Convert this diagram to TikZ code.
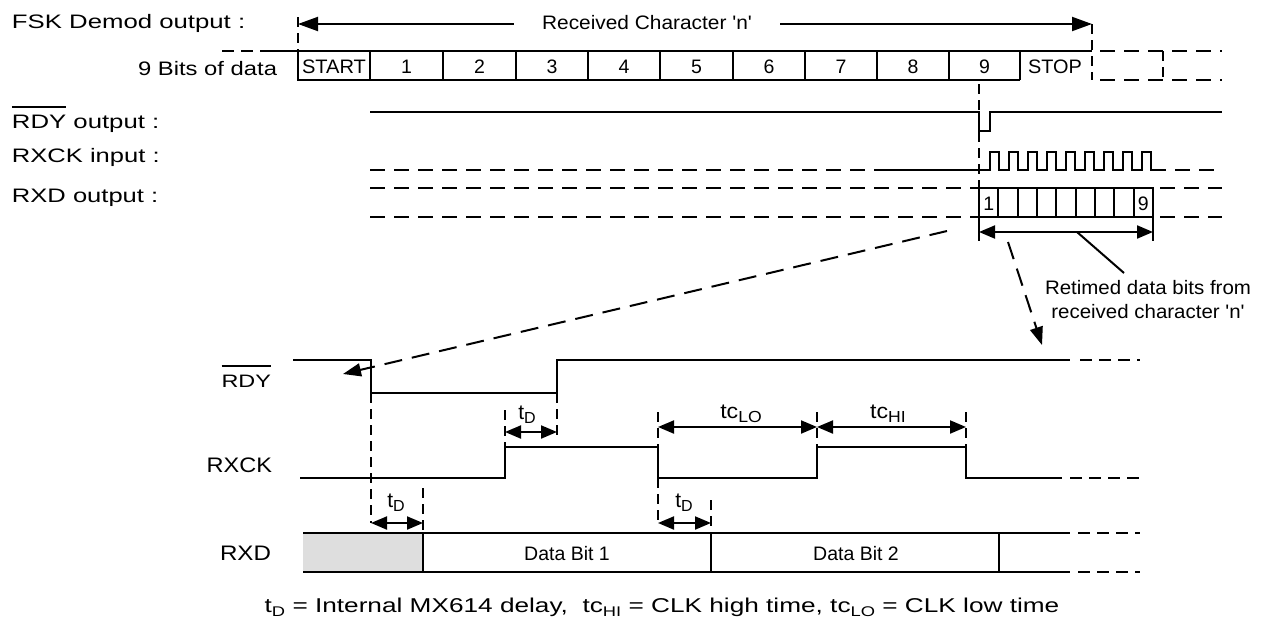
\documentclass[tikz,border=0pt]{standalone}
\usepackage{fontspec}
\setmainfont{Liberation Sans}[Ligatures=TeXOff]
\usetikzlibrary{arrows.meta}
\newcommand{\hs}[2]{\scalebox{#1}[1]{#2}}
\newcommand{\sbs}[1]{\raisebox{-0.22em}{\fontsize{14}{14}\selectfont #1}}
\newcommand{\sbd}[1]{\raisebox{-0.2em}{\fontsize{16}{16}\selectfont #1}}
\newcommand{\ovr}[2]{\leavevmode\vbox{\hrule height 1.8pt\kern #1\hbox{#2}}}
\begin{document}
\begin{tikzpicture}[x=1pt,y=-1pt,
  wave/.style={line width=2pt},
  dsh/.style={line width=2pt, dash pattern=on 15pt off 9pt},
  dshb/.style={line width=2pt, dash pattern=on 12pt off 7pt},
  tick/.style={line width=2pt, dash pattern=on 10pt off 6pt},
  lbl/.style={font=\fontsize{19.5}{22}\selectfont, inner sep=0pt, outer sep=0pt},
  dlbl/.style={font=\fontsize{21}{24}\selectfont, inner sep=0pt, outer sep=0pt},
  dim/.style={line width=2pt, {Triangle[length=16pt,width=13pt]}-{Triangle[length=16pt,width=13pt]}},
  bigarr/.style={line width=2pt, {Triangle[length=20pt,width=14pt]}-{Triangle[length=20pt,width=14pt]}},
  darr/.style={line width=2pt, dash pattern=on 18pt off 10pt, -{Triangle[length=18pt,width=13pt]}},
]
\useasboundingbox (0,0) rectangle (1261,632);
% ---------- top labels
\node[lbl,anchor=base west] (fsk) at (12,28) {\hs{1.32}{FSK Demod output :}};
\node[lbl,anchor=base east] (bits) at (277,75) {\hs{1.22}{9 Bits of data}};
\node[lbl,anchor=base west] (rdyo) at (12,128) {\hs{1.32}{\ovr{7pt}{RDY} output :}};
\node[lbl,anchor=base west] (rxcki) at (12,162) {\hs{1.31}{RXCK input :}};
\node[lbl,anchor=base west] (rxdo) at (12,202) {\hs{1.31}{RXD output :}};
% ---------- received character arrow
\coordinate (cs) at (298,24);
\coordinate (ce) at (1092,24);
\draw[bigarr] (cs) -- (ce);
\node[lbl,fill=white,inner xsep=28pt,inner ysep=5pt,anchor=base] (rc) at (647,29) {\hs{1.07}{Received Character 'n'}};
\draw[tick] (298,17) -- (298,51);
\draw[tick] (1092,24) -- (1092,80);
% ---------- 9 bits of data
\draw[dshb] (222,51) -- (262,51);
\draw[wave] (262,51) -- (1092,51);
\draw[wave] (298,51) -- (298,80) -- (1020,80);
\foreach \x in {370,443,516,588,660,733,805,877,949,1020} \draw[wave] (\x,51) -- (\x,80);
\draw[dsh] (1100,51) -- (1222,51);
\draw[dsh] (1100,80) -- (1222,80);
\draw[tick] (1163,51) -- (1163,80);
\node[lbl,anchor=base] (cstart) at (334,73) {\hs{1.03}{START}};
\foreach \i/\x in {1/406.5,2/479.5,3/552,4/624,5/696.5,6/769,7/841,8/913,9/984.5}
  \node[lbl,anchor=base] (c\i) at (\x,73) {\i};
\node[lbl,anchor=base] (cstop) at (1055,73) {\hs{1.02}{STOP}};
% ---------- RDY output
\draw[wave] (370,112) -- (979,112) -- (979,131) -- (990,131) -- (990,112) -- (1222,112);
% ---------- RXCK input
\draw[dsh] (370,170) -- (875,170);
\draw[wave] (875,170) -- (990,170)
  \foreach \k in {0,...,8} { -- ++(0,-18) -- ++(9,0) -- ++(0,18) -- ++(10,0) } -- (1166,170);
\draw[dsh] (1175,170) -- (1222,170);
% ---------- RXD output
\draw[dsh] (370,188) -- (979,188);
\draw[dsh] (370,217) -- (979,217);
\draw[wave] (979,188) rectangle (1153,217);
\foreach \k in {1,...,8} \draw[wave] ({979+\k*19.33},188) -- ++(0,29);
\node[lbl,anchor=base] (r1) at (988.7,210) {1};
\node[lbl,anchor=base] (r9) at (1143.3,210) {9};
\draw[dsh] (1160,188) -- (1222,188);
\draw[dsh] (1160,217) -- (1222,217);
\draw[tick] (979,84) -- (979,188);
% ---------- retimed arrow
\coordinate (ra) at (979,232);
\coordinate (rb) at (1153,232);
\draw[wave] (979,217) -- (979,241);
\draw[wave] (1153,217) -- (1153,241);
\draw[dim] (ra) -- (rb);
\coordinate (lm) at (1077,232);
\coordinate (lt) at (1124,273);
\draw[wave] (lm) -- (lt);
\node[lbl,anchor=base] (ret1) at (1148,294) {\hs{1.05}{Retimed data bits from}};
\node[lbl,anchor=base] (ret2) at (1148,318) {\hs{1.05}{received character 'n'}};
% ---------- dashed zoom arrows
\coordinate (d1s) at (947,231);
\coordinate (d1e) at (343,374);
\draw[darr] (d1s) -- (d1e);
\coordinate (d2s) at (1008,242);
\coordinate (d2e) at (1042,345);
\draw[darr] (d2s) -- (d2e);
% ---------- bottom labels
\node[lbl,anchor=base east] (brdy) at (271,387) {\fontsize{18}{20}\selectfont\hs{1.3}{\ovr{8pt}{RDY}}};
\node[lbl,anchor=base east] (brxck) at (272,472) {\fontsize{21}{24}\selectfont\hs{1.12}{RXCK}};
\node[lbl,anchor=base east] (brxd) at (271,560) {\fontsize{21}{24}\selectfont\hs{1.15}{RXD}};
% ---------- bottom RDY
\draw[wave] (293,360) -- (371,360) -- (371,393) -- (557,393) -- (557,360) -- (1070,360);
\draw[dshb] (1080,360) -- (1140,360);
% ---------- bottom RXCK
\draw[wave] (300,478) -- (505,478) -- (505,447) -- (658,447) -- (658,478) -- (817,478) -- (817,447) -- (966,447) -- (966,478) -- (1062,478);
\draw[dshb] (1070,478) -- (1140,478);
% ---------- bottom RXD
\fill[black!13] (303,533) rectangle (423,572);
\draw[wave] (303,533) -- (1070,533);
\draw[wave] (303,572) -- (1070,572);
\foreach \x in {423,711,999} \draw[wave] (\x,533) -- (\x,572);
\draw[dshb] (1078,533) -- (1140,533);
\draw[dshb] (1078,572) -- (1140,572);
\node[lbl,anchor=base] (db1) at (567,560) {Data Bit 1};
\node[lbl,anchor=base] (db2) at (856,560) {Data Bit 2};
% ---------- timing dimensions
\draw[tick] (371,393) -- (371,523);
\draw[tick] (505,410) -- (505,447);
\draw[tick] (557,393) -- (557,440);
\coordinate (t1a) at (505,432);
\coordinate (t1b) at (557,432);
\draw[dim] (t1a) -- (t1b);
\node[dlbl,anchor=base] (td1) at (527,419) {t\sbd{D}};
\foreach \x in {658,817,966} \draw[tick] (\x,412) -- (\x,447);
\coordinate (lo1) at (658,427);
\coordinate (lo2) at (817,427);
\coordinate (hi2) at (966,427);
\draw[dim] (lo1) -- (lo2);
\draw[dim] (lo2) -- (hi2);
\node[dlbl,anchor=base] (tclo) at (741,418) {\hs{1.1}{tc\sbd{LO}}};
\node[dlbl,anchor=base] (tchi) at (888,418) {\hs{1.1}{tc\sbd{HI}}};
\draw[tick] (423,488) -- (423,533);
\coordinate (t2a) at (371,523);
\coordinate (t2b) at (423,523);
\draw[dim] (t2a) -- (t2b);
\node[dlbl,anchor=base] (td2) at (396,507) {t\sbd{D}};
\draw[tick] (658,478) -- (658,523);
\draw[tick] (711,500) -- (711,533);
\coordinate (t3a) at (658,523);
\coordinate (t3b) at (711,523);
\draw[dim] (t3a) -- (t3b);
\node[dlbl,anchor=base] (td3) at (684,507) {t\sbd{D}};
% ---------- footnote
\node[font=\fontsize{20}{22}\selectfont, inner sep=0pt, anchor=base] (fn) at (662,612) {\hs{1.31}{t\sbs{D} = Internal MX614 delay,\ \ tc\sbs{HI} = CLK high time, tc\sbs{LO} = CLK low time}};
\end{tikzpicture}
\end{document}
